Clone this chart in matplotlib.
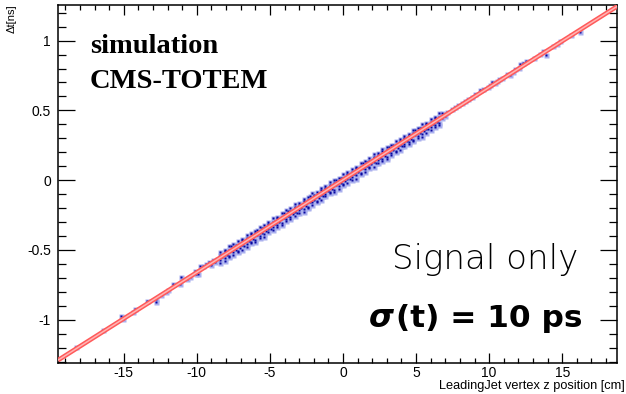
import matplotlib.pyplot as plt
from matplotlib.ticker import MultipleLocator

# fit line (red band), read at the frame edges
fit_z = [-19.5, 18.8]
fit_dt = [-1.290, 1.248]

# dense core of the scatter: z [cm], points just above and below the line [ns]
core_z = [-8.40, -8.25, -8.10, -7.95, -7.80, -7.65, -7.50, -7.35, -7.20, -7.05,
          -6.90, -6.75, -6.60, -6.45, -6.30, -6.15, -6.00, -5.85, -5.70, -5.55,
          -5.40, -5.25, -5.10, -4.95, -4.80, -4.65, -4.50, -4.35, -4.20, -4.05,
          -3.90, -3.75, -3.60, -3.45, -3.30, -3.15, -3.00, -2.85, -2.70, -2.55,
          -2.40, -2.25, -2.10, -1.95, -1.80, -1.65, -1.50, -1.35, -1.20, -1.05,
          -0.90, -0.75, -0.60, -0.45, -0.30, -0.15, 0.00, 0.15, 0.30, 0.45,
          0.60, 0.75, 0.90, 1.05, 1.20, 1.35, 1.50, 1.65, 1.80, 1.95,
          2.10, 2.25, 2.40, 2.55, 2.70, 2.85, 3.00, 3.15, 3.30, 3.45,
          3.60, 3.75, 3.90, 4.05, 4.20, 4.35, 4.50, 4.65, 4.80, 4.95,
          5.10, 5.25, 5.40, 5.55, 5.70, 5.85, 6.00, 6.15, 6.30, 6.45,
          6.60, 6.75]
core_dt_hi = [-0.535, -0.534, -0.508, -0.520, -0.499, -0.474, -0.488, -0.463, -0.462, -0.464,
              -0.431, -0.436, -0.416, -0.415, -0.389, -0.401, -0.380, -0.355, -0.368, -0.343,
              -0.342, -0.345, -0.312, -0.317, -0.297, -0.296, -0.270, -0.282, -0.261, -0.236,
              -0.249, -0.224, -0.223, -0.225, -0.192, -0.198, -0.178, -0.177, -0.151, -0.163,
              -0.142, -0.117, -0.130, -0.105, -0.104, -0.106, -0.073, -0.078, -0.058, -0.058,
              -0.032, -0.044, -0.023, 0.002, -0.011, 0.014, 0.015, 0.013, 0.046, 0.041,
              0.061, 0.062, 0.088, 0.076, 0.096, 0.121, 0.108, 0.133, 0.134, 0.132,
              0.165, 0.160, 0.180, 0.181, 0.207, 0.195, 0.216, 0.241, 0.227, 0.252,
              0.253, 0.251, 0.284, 0.279, 0.299, 0.300, 0.326, 0.314, 0.335, 0.360,
              0.347, 0.372, 0.372, 0.370, 0.403, 0.398, 0.418, 0.419, 0.445, 0.433,
              0.454, 0.479]
core_dt_lo = [-0.574, -0.553, -0.561, -0.539, -0.546, -0.510, -0.518, -0.498, -0.504, -0.483,
              -0.466, -0.470, -0.455, -0.434, -0.442, -0.420, -0.427, -0.391, -0.398, -0.378,
              -0.384, -0.364, -0.347, -0.351, -0.336, -0.315, -0.323, -0.301, -0.308, -0.272,
              -0.279, -0.259, -0.265, -0.244, -0.227, -0.232, -0.217, -0.196, -0.204, -0.182,
              -0.189, -0.153, -0.160, -0.140, -0.146, -0.125, -0.108, -0.112, -0.097, -0.077,
              -0.085, -0.063, -0.070, -0.034, -0.041, -0.021, -0.027, -0.006, 0.011, 0.007,
              0.022, 0.043, 0.035, 0.057, 0.049, 0.085, 0.078, 0.098, 0.092, 0.113,
              0.130, 0.126, 0.141, 0.162, 0.154, 0.176, 0.169, 0.205, 0.197, 0.217,
              0.211, 0.232, 0.249, 0.245, 0.260, 0.281, 0.273, 0.295, 0.288, 0.324,
              0.317, 0.337, 0.330, 0.351, 0.368, 0.364, 0.379, 0.400, 0.392, 0.414,
              0.407, 0.443]

# outer edge of the dense band
edge_z = [-8.4, -8.1, -7.8, -7.5, -7.2, -6.9, -6.6, -6.3, -6.0, -5.7,
          -5.4, -5.1, -4.8, -4.5, -4.2, -3.9, -3.6, -3.3, -3.0, -2.7,
          -2.4, -2.1, -1.8, -1.5, -1.2, -0.9, -0.6, -0.3, 0.0, 0.3,
          0.6, 0.9, 1.2, 1.5, 1.8, 2.1, 2.4, 2.7, 3.0, 3.3,
          3.6, 3.9, 4.2, 4.5, 4.8, 5.1, 5.4, 5.7, 6.0, 6.3,
          6.6]
edge_dt_hi = [-0.516, -0.500, -0.471, -0.459, -0.435, -0.422, -0.390, -0.378, -0.361, -0.333,
              -0.320, -0.297, -0.270, -0.262, -0.238, -0.215, -0.203, -0.172, -0.161, -0.137,
              -0.123, -0.090, -0.082, -0.058, -0.044, -0.016, -0.001, 0.016, 0.047, 0.058,
              0.082, 0.095, 0.124, 0.136, 0.159, 0.187, 0.195, 0.222, 0.238, 0.253,
              0.284, 0.296, 0.319, 0.334, 0.362, 0.375, 0.399, 0.412, 0.437, 0.453,
              0.480]
edge_dt_lo = [-0.594, -0.580, -0.551, -0.538, -0.514, -0.503, -0.476, -0.453, -0.440, -0.415,
              -0.405, -0.373, -0.358, -0.335, -0.323, -0.294, -0.280, -0.257, -0.234, -0.226,
              -0.197, -0.180, -0.155, -0.143, -0.117, -0.095, -0.086, -0.060, -0.037, -0.023,
              0.004, 0.011, 0.041, 0.058, 0.084, 0.095, 0.122, 0.139, 0.153, 0.182,
              0.199, 0.215, 0.243, 0.256, 0.280, 0.302, 0.312, 0.340, 0.356, 0.382,
              0.398]

# sparse tails
tail_z = [-18.27, -16.40, -15.18, -15.05, -14.25, -14.36, -13.42, -12.78, -12.80, -12.42,
          -12.12, -11.96, -11.62, -11.10, -11.16, -10.64, -10.48, -10.14, -10.07, -9.91,
          -9.75, -9.57, -9.34, -9.16, -9.00, -8.88, -8.77, -8.65,
          16.19, 15.62, 14.82, 14.64, 14.40, 13.72, 13.90, 13.50, 13.10, 12.53,
          12.35, 12.12, 12.03, 11.78, 11.62, 11.44, 11.21, 10.70, 10.18, 10.07,
          10.57, 10.87, 10.41, 9.95, 9.61, 9.38, 9.04, 8.81, 8.58, 8.36,
          8.13, 7.90, 7.67, 7.45, 7.10, 6.87, 6.99]
tail_dt = [-1.198, -1.074, -0.972, -0.998, -0.921, -0.945, -0.869, -0.852, -0.871, -0.826,
           -0.800, -0.790, -0.743, -0.697, -0.743, -0.707, -0.695, -0.648, -0.671, -0.675,
           -0.615, -0.612, -0.598, -0.589, -0.607, -0.574, -0.588, -0.565,
           1.059, 1.040, 0.995, 0.976, 0.959, 0.924, 0.900, 0.907, 0.876, 0.852,
           0.840, 0.829, 0.805, 0.793, 0.776, 0.757, 0.762, 0.722, 0.701, 0.684,
           0.710, 0.731, 0.699, 0.669, 0.650, 0.643, 0.614, 0.598, 0.582, 0.569,
           0.556, 0.540, 0.523, 0.511, 0.487, 0.475, 0.461]

W, H = 626, 394
fig = plt.figure(figsize=(W / 100, H / 100), dpi=100)
ax = fig.add_axes([58 / W, 1 - 363 / H, (617 - 58) / W, (363 - 5) / H])

sans = 'Liberation Sans'
groups = [(core_z, core_dt_hi), (core_z, core_dt_lo),
          (edge_z, edge_dt_hi), (edge_z, edge_dt_lo), (tail_z, tail_dt)]

# blue scatter with a light halo, as in the upscaled ROOT picture
for zs, ds in groups:
    ax.plot(zs, ds, 's', ms=3.6, color='#aab0ee', mec='none', zorder=2)
for zs, ds in groups:
    ax.plot(zs, ds, 's', ms=1.8, color='#0808a0', mec='none', zorder=3)

# red fit line drawn as a double line
ax.plot(fit_z, fit_dt, color='#ff5a5a', lw=3.3, solid_capstyle='butt', zorder=4)
ax.plot(fit_z, fit_dt, color='#ffb4b4', lw=1.1, solid_capstyle='butt', zorder=5)

ax.set_xlim(-19.5, 18.75)
ax.set_ylim(-1.31, 1.255)

ax.xaxis.set_major_locator(MultipleLocator(5))
ax.xaxis.set_minor_locator(MultipleLocator(1))
ax.yaxis.set_major_locator(MultipleLocator(0.5))
ax.yaxis.set_minor_locator(MultipleLocator(0.1))
ax.tick_params(axis='both', which='both', direction='in', top=True, right=True,
               width=0.9, colors='black', labelsize=10)
ax.tick_params(axis='x', which='major', length=7, pad=2)
ax.tick_params(axis='x', which='minor', length=3.6)
ax.tick_params(axis='y', which='major', length=12, pad=5)
ax.tick_params(axis='y', which='minor', length=6)
ax.set_xticks([-15, -10, -5, 0, 5, 10, 15])
ax.set_xticklabels(['-15', '-10', '-5', '0', '5', '10', '15'], family=sans)
ax.set_yticks([-1, -0.5, 0, 0.5, 1])
ax.set_yticklabels(['-1', '-0.5', '0', '0.5', '1'], family=sans)
for s in ax.spines.values():
    s.set_linewidth(1.1)

fig.text(625 / W, 1 - 389 / H, 'LeadingJet vertex z position [cm]', ha='right',
         va='baseline', family=sans, fontsize=9.2)
fig.text(17 / W, 1 - 4 / H, '\u0394t[ns]', ha='right', va='top', rotation=90,
         family=sans, fontsize=8)

fig.text(90 / W, 1 - 53 / H, 'simulation', family='Liberation Serif',
         fontweight='bold', fontsize=20.5, va='baseline')
fig.text(90 / W, 1 - 88 / H, 'CMS-TOTEM', family='Liberation Serif',
         fontweight='bold', fontsize=20.5, va='baseline')

fig.text(578 / W, 1 - 269 / H, 'Signal only', family='DejaVu Sans',
         fontweight='light', fontsize=24.5, ha='right', va='baseline')
fig.text(582 / W, 1 - 327 / H, '(t) = 10 ps', family='DejaVu Sans', fontweight='bold',
         fontsize=22.5, ha='right', va='baseline')
fig.text(394 / W, 1 - 327 / H, '\u03c3', family='DejaVu Sans', style='oblique',
         fontweight='bold', fontsize=23, ha='right', va='baseline')

fig.savefig('out.png', dpi=100)
